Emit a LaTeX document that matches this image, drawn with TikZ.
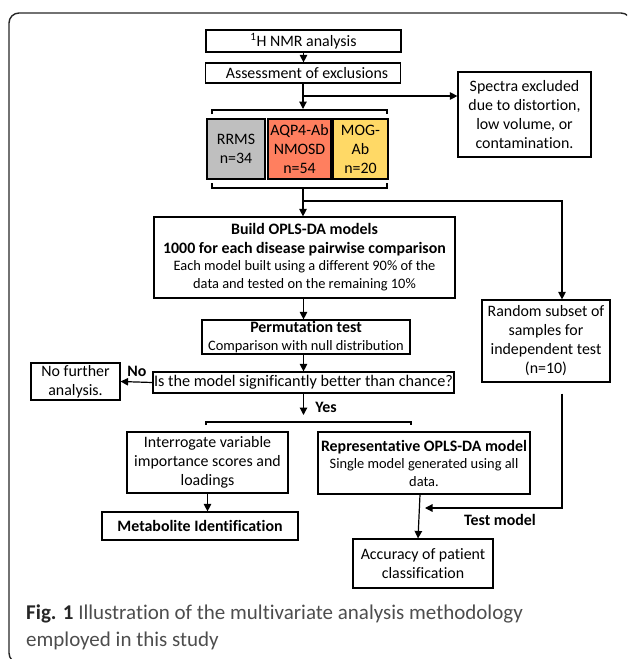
\documentclass[tikz,border=0pt]{standalone}
\usepackage{fontspec}
\setmainfont{Carlito}[Ligatures=NoCommon]
\usetikzlibrary{arrows.meta}
\definecolor{rrmsgray}{HTML}{BFBFBF}
\definecolor{aqpred}{HTML}{FF7F5F}
\definecolor{mogyel}{HTML}{FFD966}
\definecolor{capgray}{HTML}{4D4D4D}
\newcommand{\fsmain}{\fontsize{15.9}{19}\selectfont}
\newcommand{\fssub}{\fontsize{14.4}{18}\selectfont}
\begin{document}
\begin{tikzpicture}[x=1pt,y=-1pt,
  box/.style={draw=black, line width=1.2pt, inner sep=0pt, align=center, font=\fsmain},
  arr/.style={line width=1.2pt, -{Triangle[length=7.5pt,width=7.5pt]}},
  ln/.style={line width=1.2pt},
  lbl/.style={font=\fsmain\bfseries, inner sep=0pt}]
\useasboundingbox (0,0) rectangle (627,659);
\begin{scope}
\clip (0,0) rectangle (627,659);
\draw[line width=1.4pt, draw=black!85, rounded corners=10pt] (9,13) rectangle (631,663);
\end{scope}
% nodes
\node[box, minimum width=195pt, minimum height=22pt] (nmr) at (303.5,41) {\textsuperscript{1}H NMR analysis};
\node[box, minimum width=195pt, minimum height=20pt] (ass) at (303,73) {\hspace{8pt}Assessment of exclusions};
\node[box, minimum width=133pt, minimum height=85pt] (spec) at (524.5,114.5) {Spectra excluded\\due to distortion,\\low volume, or\\contamination.};
\node[box, fill=rrmsgray, minimum width=58pt, minimum height=60pt] (rrms) at (236,149) {RRMS\\n=34};
\node[box, fill=aqpred, minimum width=63pt, minimum height=60pt] (aqp) at (299.5,149) {AQP4-Ab\\NMOSD\\n=54};
\node[box, fill=mogyel, minimum width=55pt, minimum height=60pt] (mog) at (360.5,149) {MOG-\\Ab\\n=20};
\node[box, minimum width=301pt, minimum height=81pt] (build) at (304.5,257.5) {{\bfseries Build OPLS-DA models}\\{\bfseries 1000 for each disease pairwise comparison}\\[-2pt]{\fssub Each model built using a different 90\% of the}\\[-1pt]{\fssub data and tested on the remaining 10\%}};
\node[box, minimum width=208pt, minimum height=34pt] (perm) at (306,337) {{\bfseries Permutation test}\\[-1pt]{\fssub Comparison with null distribution}};
\node[box, minimum width=301pt, minimum height=21pt, font=\fontsize{16.2}{19}\selectfont] (is) at (303.5,382.5) {Is the model significantly better than chance?};
\node[box, minimum width=89pt, minimum height=37pt] (nof) at (75.5,381.5) {No further\\analysis.};
\node[box, minimum width=128pt, minimum height=82pt] (rand) at (546,341) {Random subset of\\samples for\\independent test\\(n=10)};
\node[box, minimum width=161pt, minimum height=61pt] (inter) at (207.5,462.5) {Interrogate variable\\importance scores and\\loadings};
\node[box, minimum width=196pt, minimum height=28pt] (metab) at (200,526) {\bfseries Metabolite Identification};
\node[box, minimum width=212pt, minimum height=62pt] (rep) at (424,463) {{\bfseries Representative OPLS-DA model}\\[-1.5pt]{\fssub Single model generated using all}\\[-1.5pt]{\fssub data.}};
\node[box, minimum width=140pt, minimum height=49pt] (acc) at (423,563.5) {Accuracy of patient\\classification};
% brackets
\draw[ln] (212,114) -- (212,110) -- (387,110) -- (387,114);
\draw[ln] (212,183) -- (212,188) -- (387,188) -- (387,183);
\draw[ln] (206,425) -- (206,422) -- (411,422) -- (411,425);
% connector points
\coordinate (jA) at (303,96);
\coordinate (btop) at (303,109);
\coordinate (bbot) at (303,188);
\coordinate (jB) at (303,201);
\coordinate (yesend) at (303.5,415);
\coordinate (tm) at (425,508);
% connectors
\draw[arr] (nmr.south) -- (nmr.south |- ass.north);
\draw[arr] (ass.south) -- (btop);
\draw[arr] (jA) -- (spec.west |- jA);
\draw[arr] (bbot) -- (bbot |- build.north);
\draw[arr] (jB) -| ([xshift=16pt]rand.north);
\draw[arr] (build.south -| is.north) -- (perm.north -| is.north);
\draw[arr] (perm.south -| is.north) -- (is.north);
\draw[arr] (is.west) -- (nof.east);
\draw[arr] (is.south) -- (yesend);
\draw[arr] (inter.south) -- (inter.south |- metab.north);
\draw[arr] ([xshift=-4pt]rep.south) -- ([xshift=-5pt]acc.north);
\draw[arr] ([xshift=16pt,yshift=-11pt]rand.south) |- (tm);
% labels
\node[lbl] (no) at (137,371) {No};
\node[lbl] (yes) at (326,407) {Yes};
\node[lbl] (tml) at (500,520) {Test model};
% caption
\node[anchor=base west, inner sep=0pt, font=\fontsize{21}{27}\selectfont, text=capgray] (cap1) at (26,619) {{\bfseries\color{black!85}Fig. 1} Illustration of the multivariate analysis methodology};
\node[anchor=base west, inner sep=0pt, font=\fontsize{21}{27}\selectfont, text=capgray] (cap2) at (26,646) {employed in this study};
\end{tikzpicture}
\end{document}
